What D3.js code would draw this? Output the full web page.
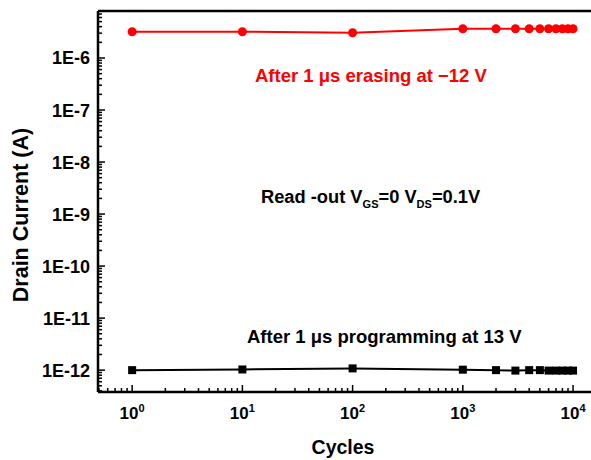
<!DOCTYPE html>
<meta charset="utf-8">
<style>
  body { margin: 0; background: #fff; }
  text { font-family: Arial, "Liberation Sans", sans-serif; font-weight: bold; }
</style>
<svg width="591" height="460"></svg>
<script src="https://d3js.org/d3.v7.min.js"></script>
<script>
  // cycles and drain current
  var cycles = [1, 10, 100, 1000, 2000, 3000, 4000, 5000, 6000, 7000, 8000, 9000, 10000];
  var eraseCurrent = [3.2e-6, 3.2e-6, 3.05e-6, 3.65e-6, 3.65e-6, 3.65e-6, 3.65e-6, 3.65e-6, 3.65e-6, 3.65e-6, 3.65e-6, 3.65e-6, 3.65e-6];
  var progCurrent = [1.0e-12, 1.03e-12, 1.08e-12, 1.02e-12, 1.0e-12, 0.98e-12, 1.0e-12, 1.0e-12, 0.98e-12, 0.98e-12, 0.98e-12, 0.98e-12, 0.98e-12];
  var yTicks = [1e-12, 1e-11, 1e-10, 1e-9, 1e-8, 1e-7, 1e-6];
  var yTickLabels = ["1E-12", "1E-11", "1E-10", "1E-9", "1E-8", "1E-7", "1E-6"];
  var xTicks = [1, 10, 100, 1000, 10000];
  var xExponents = ["0", "1", "2", "3", "4"];

  var svg = d3.select("svg"),
    pLeft = 98, pTop = 11, pBottom = 392, pRight = 591;

  var x = d3.scaleLog().domain([0.49, 14550]).range([pLeft, pRight]);
  var y = d3.scaleLog().domain([3.8e-13, 8e-6]).range([pBottom, pTop]);

  // minor ticks 2..9 in every decade
  function minors(lo, hi) {
    var out = [];
    for (var e = lo; e <= hi; e++)
      for (var m = 1; m <= 9; m++) out.push(m * Math.pow(10, e));
    return out;
  }
  var xMinor = minors(-1, 4).filter(function(v) { return v >= x.domain()[0] && v <= x.domain()[1]; });
  var yMinor = minors(-13, -6).filter(function(v) { return v >= y.domain()[0] && v <= y.domain()[1]; });

  function isMajor(list, d) {
    return list.some(function(t) { return Math.abs(t - d) / t < 1e-6; });
  }

  var g = svg.append("g");

  // frame: top and bottom run off the right side of the picture
  g.append("line").attr("x1", pLeft).attr("x2", pRight).attr("y1", pTop).attr("y2", pTop)
    .attr("stroke", "#000").attr("stroke-width", 2.5);
  g.append("line").attr("x1", pLeft).attr("x2", pRight).attr("y1", pBottom).attr("y2", pBottom)
    .attr("stroke", "#000").attr("stroke-width", 2.5);
  g.append("line").attr("x1", pLeft).attr("x2", pLeft).attr("y1", pTop).attr("y2", pBottom)
    .attr("stroke", "#000").attr("stroke-width", 2.5);

  // x ticks
  g.selectAll(".xminor").data(xMinor).enter().append("line")
    .attr("x1", function(d) { return x(d); }).attr("x2", function(d) { return x(d); })
    .attr("y1", pBottom).attr("y2", function(d) {
      return isMajor(xTicks, d) ? pBottom - 7 : pBottom - 4;
    })
    .attr("stroke", "#000").attr("stroke-width", 1.5);

  var xl = g.selectAll(".xlab").data(xTicks).enter().append("text")
    .attr("x", function(d) { return x(d); })
    .attr("y", 419)
    .attr("text-anchor", "middle")
    .attr("font-size", 17);
  xl.append("tspan").text("10");
  xl.append("tspan").attr("dy", -7).attr("font-size", 11)
    .text(function(d, i) { return xExponents[i]; });

  // y ticks
  g.selectAll(".yminor").data(yMinor).enter().append("line")
    .attr("y1", function(d) { return y(d); }).attr("y2", function(d) { return y(d); })
    .attr("x1", pLeft).attr("x2", function(d) {
      return isMajor(yTicks, d) ? pLeft + 7 : pLeft + 4;
    })
    .attr("stroke", "#000").attr("stroke-width", 1.5);

  g.selectAll(".ylab").data(yTicks).enter().append("text")
    .attr("x", 90)
    .attr("y", function(d) { return y(d) + 6.5; })
    .attr("text-anchor", "end")
    .attr("font-size", 18)
    .text(function(d, i) { return yTickLabels[i]; });

  // axis titles
  svg.append("text").attr("x", 343).attr("y", 454).attr("text-anchor", "middle")
    .attr("font-size", 19.5).text("Cycles");
  svg.append("text").attr("transform", "translate(28,215) rotate(-90)")
    .attr("text-anchor", "middle").attr("font-size", 21.5).text("Drain Current (A)");

  var line = d3.line().x(function(d) { return x(d[0]); }).y(function(d) { return y(d[1]); });
  var erase = cycles.map(function(c, i) { return [c, eraseCurrent[i]]; });
  var prog = cycles.map(function(c, i) { return [c, progCurrent[i]]; });

  svg.append("path").datum(erase).attr("d", line).attr("fill", "none")
    .attr("stroke", "#ff0000").attr("stroke-width", 2);
  svg.selectAll(".dot").data(erase).enter().append("circle")
    .attr("cx", function(d) { return x(d[0]); }).attr("cy", function(d) { return y(d[1]); })
    .attr("r", 4.5).attr("fill", "#ff0000");

  svg.append("path").datum(prog).attr("d", line).attr("fill", "none")
    .attr("stroke", "#000").attr("stroke-width", 2);
  svg.selectAll(".sq").data(prog).enter().append("rect")
    .attr("x", function(d) { return x(d[0]) - 4; }).attr("y", function(d) { return y(d[1]) - 4; })
    .attr("width", 8).attr("height", 8).attr("fill", "#000");

  // annotations
  svg.append("text").attr("x", 255).attr("y", 82).attr("font-size", 18.5).attr("fill", "#ff0000")
    .text("After 1 \u03bcs erasing at \u221212 V");

  var ro = svg.append("text").attr("x", 261).attr("y", 203).attr("font-size", 18.3).attr("fill", "#000");
  ro.append("tspan").text("Read -out V");
  ro.append("tspan").attr("dy", 5).attr("font-size", 11).text("GS");
  ro.append("tspan").attr("dy", -5).text("=0 V");
  ro.append("tspan").attr("dy", 5).attr("font-size", 11).text("DS");
  ro.append("tspan").attr("dy", -5).text("=0.1V");

  svg.append("text").attr("x", 247).attr("y", 343).attr("font-size", 18.5).attr("fill", "#000")
    .text("After 1 \u03bcs programming at 13 V");
</script>
